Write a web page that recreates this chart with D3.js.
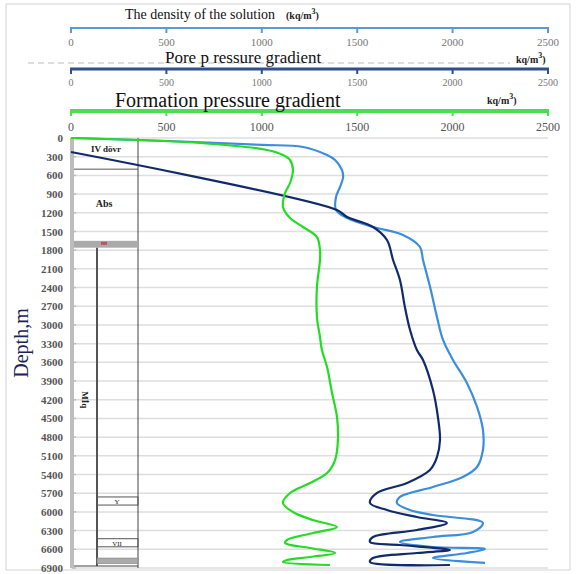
<!DOCTYPE html>
<html>
<head>
<meta charset="utf-8">
<script src="https://cdn.jsdelivr.net/npm/d3@7"></script>
<style>
  body { margin: 0; background: #fff; }
  svg { font-family: "Liberation Serif", "DejaVu Serif", serif; }
</style>
</head>
<body>
<div id="chart"></div>
<script>
var width = 576;
var height = 574;

// tick labels
var xTicks = [0, 500, 1000, 1500, 2000, 2500];
var depthTicks = d3.range(0, 6901, 300);

// stratigraphic column
var layerLine = 500;
var grayBar1 = [1650, 1760];
var boxY = [5760, 5890];
var boxVII = [6430, 6560];
var grayBar2 = [6740, 6830];

// density of the solution (light blue) [depth, value]
var densityDepth = [0, 60, 110, 144, 273, 353, 513, 626, 786, 947, 1155, 1284, 1428, 1557, 1749, 1958, 2391, 2872, 3241, 3562, 3931, 4316, 4685, 5006, 5279, 5439, 5600, 5760, 5857, 5969, 6050, 6178, 6322, 6402, 6483, 6563, 6595, 6659, 6739, 6819];
var densityValue = [0, 620, 1000, 1216, 1342, 1384, 1420, 1426, 1410, 1389, 1389, 1447, 1583, 1740, 1829, 1845, 1882, 1918, 1950, 2002, 2075, 2128, 2159, 2159, 2128, 2054, 1897, 1724, 1708, 1776, 1897, 2159, 2107, 1897, 1724, 1897, 2170, 2075, 1897, 2170];

// pore pressure gradient (dark blue)
var poreDepth = [225, 1155, 1268, 1428, 1637, 1958, 2279, 2712, 3081, 3402, 3562, 4044, 4477, 4846, 5119, 5327, 5536, 5696, 5857, 5969, 6082, 6178, 6290, 6402, 6483, 6531, 6611, 6659, 6739, 6803, 6852];
var poreValue = [0, 1394, 1447, 1583, 1656, 1688, 1724, 1750, 1777, 1813, 1845, 1897, 1923, 1934, 1918, 1881, 1761, 1604, 1567, 1656, 1813, 1970, 1813, 1583, 1567, 1724, 1986, 1813, 1583, 1567, 1986];

// formation pressure gradient (green)
var formDepth = [0, 80, 193, 273, 353, 513, 722, 883, 1107, 1284, 1428, 1589, 1797, 1958, 2391, 2872, 3193, 3402, 3675, 4092, 4477, 4846, 5167, 5375, 5536, 5696, 5857, 6001, 6130, 6242, 6338, 6450, 6499, 6579, 6659, 6723, 6771, 6803, 6852];
var formValue = [0, 676, 1027, 1111, 1148, 1163, 1148, 1122, 1111, 1148, 1216, 1289, 1305, 1305, 1289, 1289, 1305, 1315, 1342, 1368, 1394, 1399, 1384, 1342, 1253, 1148, 1111, 1163, 1268, 1394, 1268, 1132, 1122, 1253, 1384, 1253, 1132, 1111, 1357];

var svg = d3.select("#chart").append("svg")
  .attr("width", width)
  .attr("height", height);

// outer frame
svg.append("rect")
  .attr("x", 6).attr("y", 4)
  .attr("width", 564).attr("height", 566)
  .attr("fill", "none")
  .attr("stroke", "#d4d4d4")
  .attr("stroke-width", 1);

var x = d3.scaleLinear().domain([0, 2500]).range([71, 548]);
var y = d3.scaleLinear().domain([0, 6900]).range([138, 568]);

// gridlines
svg.append("g")
  .selectAll("line")
  .data(depthTicks)
  .enter().append("line")
  .attr("x1", x(0)).attr("x2", x(2500))
  .attr("y1", function(d) { return y(d); })
  .attr("y2", function(d) { return y(d); })
  .attr("stroke", "#dedede")
  .attr("stroke-width", 1.5);

// top axes
var topAxes = [
  {y: 28, color: "#5b9bd5", w: 2, labelY: 46, labelColor: "#777", size: 11},
  {y: 69, color: "#2f4f8f", w: 3, labelY: 86, labelColor: "#777", size: 10},
  {y: 111, color: "#4fdc4f", w: 4, labelY: 131, labelColor: "#555", size: 12}
];
topAxes.forEach(function(a) {
  var g = svg.append("g");
  g.append("line")
    .attr("x1", x(0) - 1).attr("x2", x(2500) + 1)
    .attr("y1", a.y).attr("y2", a.y)
    .attr("stroke", a.color).attr("stroke-width", a.w);
  g.selectAll(".tk")
    .data(xTicks)
    .enter().append("line")
    .attr("x1", function(d) { return x(d); })
    .attr("x2", function(d) { return x(d); })
    .attr("y1", a.y - 1).attr("y2", a.y + 5)
    .attr("stroke", a.color).attr("stroke-width", 2);
  g.selectAll("text")
    .data(xTicks)
    .enter().append("text")
    .attr("x", function(d) { return x(d); })
    .attr("y", a.labelY)
    .attr("text-anchor", "middle")
    .attr("fill", a.labelColor)
    .style("font-size", a.size + "px")
    .text(function(d) { return d; });
});

// faint artifact dashes between titles
svg.append("line")
  .attr("x1", 28).attr("x2", 510)
  .attr("y1", 63).attr("y2", 63)
  .attr("stroke", "#bbb").attr("stroke-width", 1)
  .attr("stroke-dasharray", "6,4");

// axis titles
svg.append("text").attr("x", 125).attr("y", 19)
  .style("font-size", "14px").attr("fill", "#111")
  .text("The density of the solution");
var u1 = svg.append("text").attr("x", 286).attr("y", 19)
  .style("font-size", "10px").style("font-weight", "bold").attr("fill", "#222");
u1.append("tspan").text("(kq/m");
u1.append("tspan").attr("dy", -5).style("font-size", "8px").text("3");
u1.append("tspan").attr("dy", 5).text(")");

svg.append("text").attr("x", 165).attr("y", 63)
  .style("font-size", "17px").attr("fill", "#111")
  .text("Pore p ressure gradient");
var u2 = svg.append("text").attr("x", 516).attr("y", 63)
  .style("font-size", "10px").style("font-weight", "bold").attr("fill", "#222");
u2.append("tspan").text("kq/m");
u2.append("tspan").attr("dy", -5).style("font-size", "8px").text("3");
u2.append("tspan").attr("dy", 5).text(")");

svg.append("text").attr("x", 115).attr("y", 107)
  .style("font-size", "20px").attr("fill", "#111")
  .text("Formation pressure gradient");
var u3 = svg.append("text").attr("x", 487).attr("y", 104)
  .style("font-size", "10px").style("font-weight", "bold").attr("fill", "#222");
u3.append("tspan").text("kq/m");
u3.append("tspan").attr("dy", -5).style("font-size", "8px").text("3");
u3.append("tspan").attr("dy", 5).text(")");

// depth axis
var yAxis = d3.axisLeft(y).tickValues(depthTicks).tickSize(0).tickPadding(9)
  .tickFormat(d3.format("d"));
var yg = svg.append("g")
  .attr("transform", "translate(" + 72 + ",0)")
  .call(yAxis);
yg.select(".domain").remove();
yg.selectAll("text")
  .attr("fill", "#555")
  .style("font-size", "11px")
  .style("font-weight", "bold")
  .style("font-family", "Liberation Serif, serif");

svg.append("line")
  .attr("x1", 72).attr("x2", 72)
  .attr("y1", y(0)).attr("y2", y(6900))
  .attr("stroke", "#bdbdbd").attr("stroke-width", 4);
svg.selectAll(".ytk")
  .data(depthTicks)
  .enter().append("line")
  .attr("x1", 72).attr("x2", 76)
  .attr("y1", function(d) { return y(d); })
  .attr("y2", function(d) { return y(d); })
  .attr("stroke", "#bdbdbd").attr("stroke-width", 1.5);

svg.append("text")
  .attr("transform", "translate(28," + 343 + ") rotate(-90)")
  .attr("text-anchor", "middle")
  .style("font-size", "20px")
  .attr("fill", "#1c2552")
  .text("Depth,m");

// stratigraphic column
var col = svg.append("g");
var cx0 = 74, cx1 = 138, cxm = 97;
col.append("line")
  .attr("x1", cx1).attr("x2", cx1)
  .attr("y1", y(0)).attr("y2", y(6900))
  .attr("stroke", "#444").attr("stroke-width", 1);
col.append("line")
  .attr("x1", cx0).attr("x2", cx1)
  .attr("y1", y(layerLine)).attr("y2", y(layerLine))
  .attr("stroke", "#555").attr("stroke-width", 1);
col.append("rect")
  .attr("x", cx0).attr("y", y(grayBar1[0]))
  .attr("width", cx1 - cx0).attr("height", y(grayBar1[1]) - y(grayBar1[0]))
  .attr("fill", "#aaa");
col.append("rect")
  .attr("x", 101).attr("y", y(grayBar1[0]) + 1)
  .attr("width", 6).attr("height", 3)
  .attr("fill", "#b55");
col.append("line")
  .attr("x1", cxm).attr("x2", cxm)
  .attr("y1", y(grayBar1[1])).attr("y2", y(6900) - 2)
  .attr("stroke", "#555").attr("stroke-width", 2);
col.append("line")
  .attr("x1", cx0).attr("x2", cx1)
  .attr("y1", y(6900) - 2).attr("y2", y(6900) - 2)
  .attr("stroke", "#444").attr("stroke-width", 1);
[boxY, boxVII].forEach(function(b) {
  col.append("rect")
    .attr("x", cxm).attr("y", y(b[0]))
    .attr("width", cx1 - cxm).attr("height", y(b[1]) - y(b[0]))
    .attr("fill", "none").attr("stroke", "#555").attr("stroke-width", 1);
});
col.append("rect")
  .attr("x", cxm).attr("y", y(grayBar2[0]))
  .attr("width", cx1 - cxm).attr("height", y(grayBar2[1]) - y(grayBar2[0]))
  .attr("fill", "#aaa").attr("stroke", "#777").attr("stroke-width", 0.5);

col.append("text").attr("x", 106).attr("y", y(230))
  .attr("text-anchor", "middle")
  .style("font-size", "9px").style("font-weight", "bold").attr("fill", "#222")
  .text("IV dövr");
col.append("text").attr("x", 104).attr("y", y(1100))
  .attr("text-anchor", "middle")
  .style("font-size", "10px").style("font-weight", "bold").attr("fill", "#222")
  .text("Abs");
col.append("text")
  .attr("transform", "translate(82," + y(4200) + ") rotate(90)")
  .attr("text-anchor", "middle")
  .style("font-size", "9px").style("font-weight", "bold").attr("fill", "#222")
  .text("Mİq");
col.append("text").attr("x", 117).attr("y", y(5860) + 1)
  .attr("text-anchor", "middle")
  .style("font-size", "7px").attr("fill", "#222")
  .text("Y");
col.append("text").attr("x", 117).attr("y", y(6530) + 1)
  .attr("text-anchor", "middle")
  .style("font-size", "7px").attr("fill", "#222")
  .text("VII");

// curves
var line = d3.line()
  .x(function(d) { return x(d[1]); })
  .y(function(d) { return y(d[0]); })
  .curve(d3.curveCatmullRom.alpha(0.5));

function pairs(ds, vs) { return ds.map(function(d, i) { return [d, vs[i]]; }); }

svg.append("path")
  .datum(pairs(densityDepth, densityValue))
  .attr("d", line)
  .attr("fill", "none").attr("stroke", "#3b8ede").attr("stroke-width", 2.2);
svg.append("path")
  .datum(pairs(poreDepth, poreValue))
  .attr("d", line)
  .attr("fill", "none").attr("stroke", "#102a6b").attr("stroke-width", 2.2);
svg.append("path")
  .datum(pairs(formDepth, formValue))
  .attr("d", line)
  .attr("fill", "none").attr("stroke", "#22dd22").attr("stroke-width", 2.2);
</script>
</body>
</html>
